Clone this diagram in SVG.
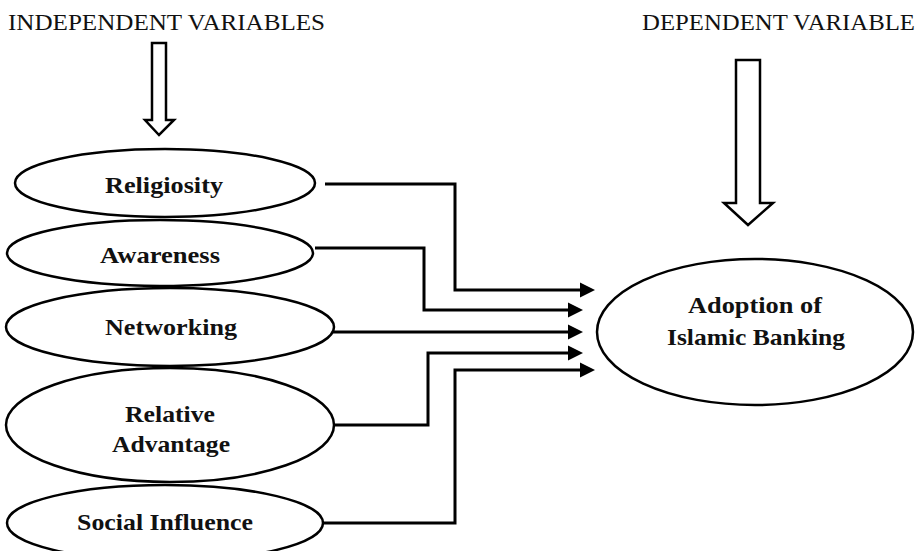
<svg xmlns="http://www.w3.org/2000/svg" width="921" height="551" viewBox="0 0 921 551">
<style>
.bg{fill:#fff}
.hdr{font-family:"Liberation Serif","Times New Roman",serif;font-size:24px;fill:#111}
.lbl{font-family:"Liberation Serif","Times New Roman",serif;font-size:24px;font-weight:bold;fill:#111;text-anchor:middle}
.node{fill:#fff;stroke:#000;stroke-width:2.5}
.conn{fill:none;stroke:#000;stroke-width:3}
.block{fill:#fff;stroke:#000;stroke-width:2.5;stroke-linejoin:miter}
</style>
<defs>
<marker id="ah" markerUnits="userSpaceOnUse" markerWidth="16" markerHeight="16" refX="0" refY="7.5" orient="auto" viewBox="0 0 16 16" overflow="visible">
<path d="M0,0 L15,7.5 L0,15 Z" fill="#000"/>
</marker>
</defs>
<rect class="bg" x="0" y="0" width="921" height="551"/>
<g id="headers">
<text class="hdr" x="8" y="30" textLength="317" lengthAdjust="spacingAndGlyphs">INDEPENDENT VARIABLES</text>
<text class="hdr" x="642" y="30" textLength="273" lengthAdjust="spacingAndGlyphs">DEPENDENT VARIABLE</text>
</g>
<g id="block-arrows">
<path class="block" d="M152,43 H166 V120 H174 L159,135 L145,120 H152 Z"/>
<path class="block" d="M736,60 H760 V203 H773 L748,225 L724,203 H736 Z"/>
</g>
<g id="connectors">
<path class="conn" d="M325,184 H455 V290 H580" marker-end="url(#ah)"/>
<path class="conn" d="M315,248 H424 V310 H568" marker-end="url(#ah)"/>
<path class="conn" d="M333,332 H568" marker-end="url(#ah)"/>
<path class="conn" d="M335,425 H428 V353 H568" marker-end="url(#ah)"/>
<path class="conn" d="M323,523 H455 V370 H580" marker-end="url(#ah)"/>
</g>
<g id="religiosity">
<ellipse class="node" cx="165" cy="183" rx="150" ry="34"/>
<text class="lbl" x="164" y="193" textLength="118" lengthAdjust="spacingAndGlyphs">Religiosity</text>
</g>
<g id="awareness">
<ellipse class="node" cx="160" cy="253" rx="153" ry="33"/>
<text class="lbl" x="160" y="263" textLength="120" lengthAdjust="spacingAndGlyphs">Awareness</text>
</g>
<g id="networking">
<ellipse class="node" cx="170" cy="327" rx="164" ry="39"/>
<text class="lbl" x="171" y="335" textLength="132" lengthAdjust="spacingAndGlyphs">Networking</text>
</g>
<g id="relative-advantage">
<ellipse class="node" cx="170" cy="425" rx="164" ry="57"/>
<text class="lbl" x="170" y="422" textLength="90" lengthAdjust="spacingAndGlyphs">Relative</text>
<text class="lbl" x="171" y="452" textLength="118" lengthAdjust="spacingAndGlyphs">Advantage</text>
</g>
<g id="social-influence">
<ellipse class="node" cx="165" cy="523" rx="158" ry="38"/>
<text class="lbl" x="165" y="530" textLength="176" lengthAdjust="spacingAndGlyphs">Social Influence</text>
</g>
<g id="adoption">
<ellipse class="node" cx="755" cy="332" rx="158" ry="73"/>
<text class="lbl" x="755" y="313" textLength="134" lengthAdjust="spacingAndGlyphs">Adoption of</text>
<text class="lbl" x="756" y="345" textLength="178" lengthAdjust="spacingAndGlyphs">Islamic Banking</text>
</g>
</svg>
